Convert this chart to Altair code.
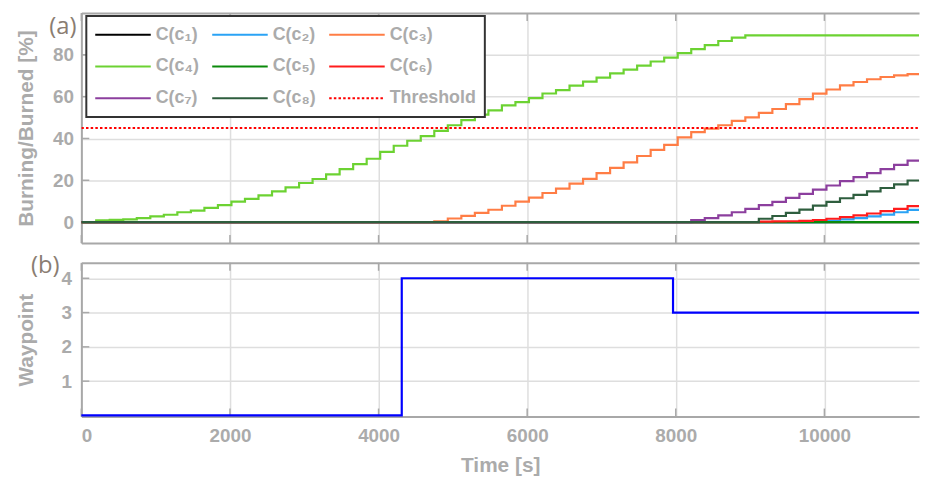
import altair as alt
import pandas as pd

# ---------------- style constants ----------------
FONT = "Liberation Sans"
GRAY = "#ababab"
BORDER = "#a8a8a8"
GRID = "#dedede"
LABEL_COLOR = "#8a7d72"

# ---------------- axes ----------------
X_END = 11274
X_TICKS = [0, 2000, 4000, 6000, 8000, 10000]
Y_DOMAIN_A = [-10, 100]
Y_TICKS_A = [0, 20, 40, 60, 80]
Y_DOMAIN_B = [-0.03, 4.45]
Y_TICKS_B = [1, 2, 3, 4]
PANEL_LABELS = ["(a)", "(b)"]

# ---------------- data: step times (s) ----------------
STEP_TIMES = [200, 382, 564, 746, 928, 1110, 1292, 1474, 1656, 1838,
              2020, 2202, 2384, 2566, 2748, 2930, 3112, 3294, 3476, 3658,
              3840, 4022, 4204, 4386, 4568, 4750, 4932, 5114, 5296, 5478,
              5660, 5842, 6024, 6206, 6388, 6570, 6752, 6934, 7116, 7298,
              7480, 7662, 7844, 8026, 8208, 8390, 8572, 8754, 8936, 9118,
              9300, 9482, 9664, 9846, 10028, 10210, 10392, 10574, 10756, 10938,
              11120, 11302]

# series: (index of first step, values at successive steps)
C1_START, C1_VALUES = 0, []
C2_START, C2_VALUES = 54, [0.6, 1.3, 1.9, 2.7, 3.6, 4.7, 5.8, 7.1]
C3_START, C3_VALUES = 25, [0.3, 1.7, 3.0, 4.4, 5.9, 7.8, 9.8, 11.7, 13.9, 16.0,
                           18.4, 20.7, 23.4, 25.9, 28.6, 31.6, 34.5, 36.9, 40.5, 43.0,
                           44.7, 46.3, 48.4, 50.1, 52.2, 54.1, 56.4, 58.8, 61.4, 63.4,
                           65.4, 67.0, 68.3, 69.4, 70.2, 70.8, 71.3]
C4_START, C4_VALUES = 0, [0.8, 1.1, 1.3, 1.9, 2.7, 3.5, 4.7, 5.5, 6.8, 8.1,
                          9.8, 11.1, 12.8, 14.7, 16.6, 18.7, 20.6, 22.8, 25.3, 27.7,
                          30.3, 33.6, 36.5, 38.9, 41.1, 43.6, 46.3, 48.8, 51.4, 53.4,
                          55.8, 57.4, 59.3, 61.5, 63.1, 65.3, 67.2, 69.1, 71.1, 72.9,
                          74.8, 76.8, 78.7, 80.8, 82.7, 84.6, 86.6, 88.2, 89.3]
C5_START, C5_VALUES = 0, []
C6_START, C6_VALUES = 49, [0.2, 0.3, 0.4, 0.6, 1.0, 1.6, 2.4, 3.2, 4.1, 5.2, 6.3, 7.6, 8.7]
C7_START, C7_VALUES = 44, [1.0, 1.9, 3.2, 4.7, 6.3, 8.1, 9.7, 11.6, 13.5, 15.5,
                           17.5, 19.6, 21.5, 23.4, 25.3, 27.4, 29.4, 31.4]
C8_START, C8_VALUES = 49, [1.6, 2.9, 4.4, 6.0, 7.9, 9.7, 11.4, 13.0, 14.7, 16.3, 18.0, 19.9, 21.5]
THRESHOLD = 45

WP_TIMES = [0, 4312, 7963, X_END]
WP_VALUES = [0, 4, 3, 3]

NAMES = ["C(c₁)", "C(c₂)", "C(c₃)", "C(c₄)", "C(c₅)", "C(c₆)", "C(c₇)", "C(c₈)", "Threshold"]
COLORS = {
    "C(c₁)": "#000000", "C(c₂)": "#2aa3f5", "C(c₃)": "#ff7d45", "C(c₄)": "#6cd232",
    "C(c₅)": "#0b8a0b", "C(c₆)": "#ff1c1c", "C(c₇)": "#8c3f9e", "C(c₈)": "#2e5e3e",
    "Threshold": "#ff0000",
}
LEGEND_ORDER = ["C(c₁)", "C(c₄)", "C(c₇)", "C(c₂)", "C(c₅)", "C(c₈)", "C(c₃)", "C(c₆)", "Threshold"]

series_def = [
    (NAMES[0], C1_START, C1_VALUES), (NAMES[1], C2_START, C2_VALUES),
    (NAMES[2], C3_START, C3_VALUES), (NAMES[3], C4_START, C4_VALUES),
    (NAMES[4], C5_START, C5_VALUES), (NAMES[5], C6_START, C6_VALUES),
    (NAMES[6], C7_START, C7_VALUES), (NAMES[7], C8_START, C8_VALUES),
]
rows = []
for name, start, vals in series_def:
    rows.append({"series": name, "t": 0, "v": 0.0})
    for i, v in enumerate(vals):
        t = STEP_TIMES[start + i]
        if t < X_END:
            rows.append({"series": name, "t": t, "v": v})
    last = [v for i, v in enumerate(vals) if STEP_TIMES[start + i] < X_END]
    rows.append({"series": name, "t": X_END, "v": last[-1] if last else 0.0})
rows.append({"series": NAMES[8], "t": 0, "v": THRESHOLD})
rows.append({"series": NAMES[8], "t": X_END, "v": THRESHOLD})
df_a = pd.DataFrame(rows)

df_b = pd.DataFrame({"t": WP_TIMES, "v": WP_VALUES})
df_xt = pd.DataFrame({"t": X_TICKS})
df_yta = pd.DataFrame({"v": Y_TICKS_A})
df_ytb = pd.DataFrame({"v": Y_TICKS_B})

W = 845
H_A = 232
H_B = 155
TICK_LEN = 8

top_grid_a = f"datum.value >= {Y_DOMAIN_A[1]} - 0.01"
top_grid_b = f"datum.value >= {Y_DOMAIN_B[1]} - 0.01"

legend = alt.Legend(
    title=None, orient="none", legendX=5, legendY=3, columns=3, values=LEGEND_ORDER,
    symbolType="stroke", symbolSize=3136, symbolStrokeWidth=2,
    labelFont=FONT, labelFontSize=18, labelFontWeight="bold", labelColor=GRAY,
    labelOffset=4, columnPadding=12, rowPadding=10, clipHeight=22, padding=8,
    strokeColor="#333333", fillColor="white", labelLimit=300,
)

x_scale = alt.Scale(domain=[0, X_END], nice=False, zero=False)
y_scale_a = alt.Scale(domain=Y_DOMAIN_A, nice=False, zero=False)
y_scale_b = alt.Scale(domain=Y_DOMAIN_B, nice=False, zero=False)

x_axis_a = alt.Axis(values=X_TICKS, labels=False, ticks=False, title=None,
                    domainColor=BORDER, domainWidth=2, gridColor=GRID, gridWidth=1.5)
y_axis_a = alt.Axis(values=Y_TICKS_A + [Y_DOMAIN_A[1]],
                    labelExpr=f"datum.value >= {Y_DOMAIN_A[1]} - 0.01 ? '' : datum.label",
                    title="Burning/Burned  [%]", titleX=-45, titleY=H_A / 2,
                    ticks=False, labelPadding=8,
                    domainColor=BORDER, domainWidth=2,
                    gridColor={"condition": {"test": top_grid_a, "value": BORDER}, "value": GRID},
                    gridWidth={"condition": {"test": top_grid_a, "value": 2}, "value": 1.5})
x_axis_b = alt.Axis(values=X_TICKS, format="d", ticks=False, labelPadding=10,
                    title="Time [s]", titlePadding=9,
                    domainColor=BORDER, domainWidth=2, gridColor=GRID, gridWidth=1.5)
y_axis_b = alt.Axis(values=Y_TICKS_B + [Y_DOMAIN_B[1]],
                    labelExpr=f"datum.value >= {Y_DOMAIN_B[1]} - 0.01 ? '' : datum.label",
                    title="Waypoint", titleX=-45, titleY=H_B / 2,
                    ticks=False, labelPadding=10,
                    domainColor=BORDER, domainWidth=2,
                    gridColor={"condition": {"test": top_grid_b, "value": BORDER}, "value": GRID},
                    gridWidth={"condition": {"test": top_grid_b, "value": 2}, "value": 1.5})


def tick_layers(height, ydf, yscale, xaxis, yaxis):
    bottom = alt.Chart(df_xt).mark_rule(color=BORDER, strokeWidth=1.5).encode(
        x=alt.X("t:Q", scale=x_scale, axis=xaxis),
        y=alt.value(height), y2=alt.value(height - TICK_LEN))
    top = alt.Chart(df_xt).mark_rule(color=BORDER, strokeWidth=1.5).encode(
        x=alt.X("t:Q", scale=x_scale, axis=xaxis),
        y=alt.value(0), y2=alt.value(TICK_LEN))
    left = alt.Chart(ydf).mark_rule(color=BORDER, strokeWidth=1.5).encode(
        y=alt.Y("v:Q", scale=yscale, axis=yaxis),
        x=alt.value(0), x2=alt.value(TICK_LEN))
    return [bottom, top, left]


lines_a = alt.Chart(df_a).mark_line(interpolate="step-after", strokeWidth=2.2, clip=True).encode(
    x=alt.X("t:Q", scale=x_scale, axis=x_axis_a),
    y=alt.Y("v:Q", scale=y_scale_a, axis=y_axis_a),
    color=alt.Color("series:N", scale=alt.Scale(domain=LEGEND_ORDER, range=[COLORS[n] for n in LEGEND_ORDER]),
                    legend=legend),
    strokeDash=alt.StrokeDash("series:N",
                              scale=alt.Scale(domain=LEGEND_ORDER,
                                              range=[[2.5, 2.2] if n == "Threshold" else [1, 0] for n in LEGEND_ORDER]),
                              legend=legend),
)

label_a = alt.Chart(pd.DataFrame({"label": [PANEL_LABELS[0]]})).mark_text(
    align="right", baseline="middle", font="Open Sans", fontSize=24, color=LABEL_COLOR
).encode(x=alt.value(-5), y=alt.value(14), text="label:N")

panel_a = alt.layer(*tick_layers(H_A, df_yta, y_scale_a, x_axis_a, y_axis_a), lines_a, label_a
                    ).properties(width=W, height=H_A)

line_b = alt.Chart(df_b).mark_line(interpolate="step-after", strokeWidth=2.2, color="#0000ff", clip=False).encode(
    x=alt.X("t:Q", scale=x_scale, axis=x_axis_b),
    y=alt.Y("v:Q", scale=y_scale_b, axis=y_axis_b),
)

label_b = alt.Chart(pd.DataFrame({"label": [PANEL_LABELS[1]]})).mark_text(
    align="right", baseline="middle", font="Open Sans", fontSize=24, color=LABEL_COLOR
).encode(x=alt.value(-22), y=alt.value(3), text="label:N")

panel_b = alt.layer(*tick_layers(H_B, df_ytb, y_scale_b, x_axis_b, y_axis_b), line_b, label_b
                    ).properties(width=W, height=H_B)

chart = alt.vconcat(panel_a, panel_b, spacing=20, bounds="flush").properties(
    padding={"left": 7, "top": 2, "right": 0, "bottom": 0},
).configure_view(stroke=None).configure_axis(
    labelFont=FONT, labelFontSize=19, labelFontWeight="bold", labelColor=GRAY,
    titleFont=FONT, titleFontSize=21, titleFontWeight="bold", titleColor=GRAY,
).configure_legend(strokeWidth=2)

chart.save("out.html", embed_options={"renderer": "svg", "actions": False})
